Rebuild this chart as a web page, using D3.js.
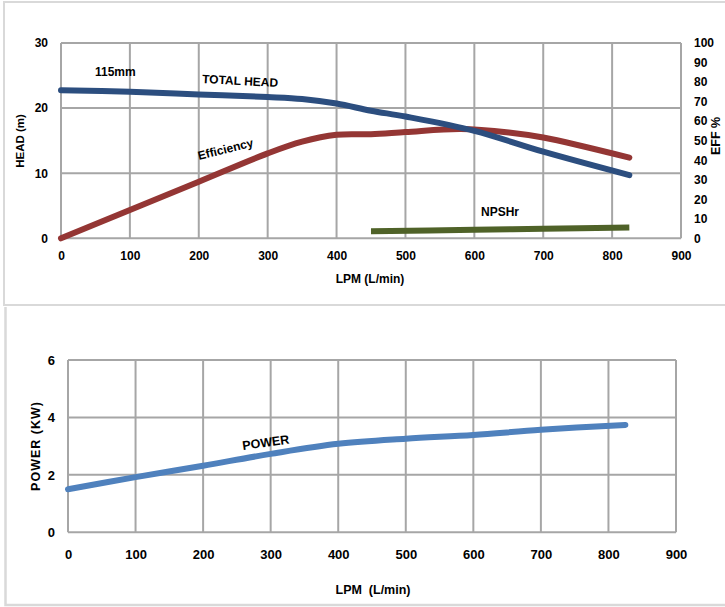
<!DOCTYPE html>
<html><head><meta charset="utf-8">
<script src="https://cdn.jsdelivr.net/npm/d3@7"></script>
<style>
body{margin:0;background:#fff;}
text{font-family:"Liberation Sans",Arial,sans-serif;font-weight:bold;fill:#000;}
</style></head>
<body>
<svg id="c" width="725" height="607"></svg>
<script>
// ---- data ----
const xTicks = [0,100,200,300,400,500,600,700,800,900];
const headTicks = [0,10,20,30];
const effTicks = [0,10,20,30,40,50,60,70,80,90,100];
const powerTicks = [0,2,4,6];

const headFlow = [0,100,200,300,350,400,450,500,600,700,825];
const headVals = [22.75,22.5,22.1,21.7,21.4,20.7,19.6,18.7,16.5,13.3,9.7];

const effFlow = [0,100,200,300,350,400,450,500,580,650,700,825];
const effVals = [0,14.5,29,43.5,49.5,53,53.3,54.4,56,54.2,51.6,41.3];

const npshFlow = [450,600,700,825];
const npshVals = [1.1,1.3,1.45,1.65];

const powerFlow = [0,100,200,300,400,500,600,700,825];
const powerVals = [1.5,1.92,2.32,2.73,3.08,3.26,3.39,3.57,3.74];

const svg = d3.select("#c");
const gridCol = "#A6A6A6";
const fmt = d3.format("d");

// panel frames
svg.append("path").attr("d","M4,306 V2 H725").attr("fill","none").attr("stroke","#D9D9D9").attr("stroke-width",2);
svg.append("line").attr("x1",4).attr("x2",725).attr("y1",305).attr("y2",305).attr("stroke","#D9D9D9").attr("stroke-width",2);
svg.append("path").attr("d","M5.5,307 V605 H725").attr("fill","none").attr("stroke","#D9D9D9").attr("stroke-width",2.5);

// ---------- TOP CHART ----------
const x1 = d3.scaleLinear().domain([0,900]).range([61,681]);
const yH = d3.scaleLinear().domain([0,30]).range([238.3,43]);
const yE = d3.scaleLinear().domain([0,100]).range([238.3,43]);

const g1 = svg.append("g");
g1.selectAll(".vg").data(xTicks).join("line")
  .attr("x1",d=>x1(d)).attr("x2",d=>x1(d)).attr("y1",yH(30)).attr("y2",yH(0))
  .attr("stroke",gridCol).attr("stroke-width",2);
g1.selectAll(".hg").data(headTicks).join("line")
  .attr("x1",x1(0)).attr("x2",x1(900)).attr("y1",d=>yH(d)).attr("y2",d=>yH(d))
  .attr("stroke",gridCol).attr("stroke-width",2);

const axB1 = g1.append("g").attr("transform","translate(0,238.3)")
  .call(d3.axisBottom(x1).tickValues(xTicks).tickFormat(fmt).tickSize(0).tickPadding(13));
const axL1 = g1.append("g").attr("transform","translate(61,0)")
  .call(d3.axisLeft(yH).tickValues(headTicks).tickFormat(fmt).tickSize(0).tickPadding(13));
const axR1 = g1.append("g").attr("transform","translate(681,0)")
  .call(d3.axisRight(yE).tickValues(effTicks).tickFormat(fmt).tickSize(0).tickPadding(13));
[axB1,axL1,axR1].forEach(a=>{a.select(".domain").remove();a.selectAll("text").attr("font-size",12).attr("font-weight","bold").attr("font-family","Liberation Sans, Arial, sans-serif");});

const line = (xs,ys,sx,sy)=>d3.line().curve(d3.curveCatmullRom.alpha(0.5))
  .x((d,i)=>sx(xs[i])).y(d=>sy(d))(ys);

g1.append("path").attr("d",line(effFlow,effVals,x1,yE)).attr("fill","none")
  .attr("stroke","#943634").attr("stroke-width",6).attr("stroke-linecap","round");
g1.append("path").attr("d",line(headFlow,headVals,x1,yH)).attr("fill","none")
  .attr("stroke","#2C4E7F").attr("stroke-width",6).attr("stroke-linecap","round");
g1.append("path").attr("d",line(npshFlow,npshVals,x1,yH)).attr("fill","none")
  .attr("stroke","#4F6228").attr("stroke-width",6);

g1.append("text").attr("x",95).attr("y",76).attr("font-size",12).text("115mm");
g1.append("text").attr("x",202).attr("y",83).attr("font-size",12)
  .attr("transform","rotate(3,202,83)").text("TOTAL HEAD");
g1.append("text").attr("x",199).attr("y",160).attr("font-size",12)
  .attr("transform","rotate(-14,199,160)").text("Efficiency");
g1.append("text").attr("x",481).attr("y",216).attr("font-size",12).text("NPSHr");

g1.append("text").attr("transform","translate(24,141) rotate(-90)").attr("text-anchor","middle")
  .attr("font-size",11.5).text("HEAD (m)");
g1.append("text").attr("transform","translate(720,136) rotate(-90)").attr("text-anchor","middle")
  .attr("font-size",12.5).text("EFF %");
g1.append("text").attr("x",370).attr("y",283).attr("text-anchor","middle")
  .attr("font-size",12).text("LPM (L/min)");

// ---------- BOTTOM CHART ----------
const x2 = d3.scaleLinear().domain([0,900]).range([68,676]);
const yP = d3.scaleLinear().domain([0,6]).range([532.3,360]);
const g2 = svg.append("g");
g2.selectAll(".vg").data(xTicks).join("line")
  .attr("x1",d=>x2(d)).attr("x2",d=>x2(d)).attr("y1",yP(6)).attr("y2",yP(0))
  .attr("stroke",gridCol).attr("stroke-width",2);
g2.selectAll(".hg").data(powerTicks).join("line")
  .attr("x1",x2(0)).attr("x2",x2(900)).attr("y1",d=>yP(d)).attr("y2",d=>yP(d))
  .attr("stroke",gridCol).attr("stroke-width",2);
const axB2 = g2.append("g").attr("transform","translate(0,532.3)")
  .call(d3.axisBottom(x2).tickValues(xTicks).tickFormat(fmt).tickSize(0).tickPadding(17));
const axL2 = g2.append("g").attr("transform","translate(68,0)")
  .call(d3.axisLeft(yP).tickValues(powerTicks).tickFormat(fmt).tickSize(0).tickPadding(13));
[axB2,axL2].forEach(a=>{a.select(".domain").remove();a.selectAll("text").attr("font-size",13).attr("font-weight","bold").attr("font-family","Liberation Sans, Arial, sans-serif");});

g2.append("path").attr("d",line(powerFlow,powerVals,x2,yP)).attr("fill","none")
  .attr("stroke","#4F81BD").attr("stroke-width",6).attr("stroke-linecap","round");

g2.append("text").attr("x",243).attr("y",450).attr("font-size",12.5)
  .attr("transform","rotate(-8,243,450)").text("POWER");
g2.append("text").attr("transform","translate(40,446) rotate(-90)").attr("text-anchor","middle")
  .attr("font-family","DejaVu Sans, sans-serif").attr("font-size",12.5).attr("letter-spacing",1).text("POWER (KW)");
g2.append("text").attr("x",373).attr("y",594).attr("text-anchor","middle")
  .attr("font-size",12.5).style("white-space","pre").text("LPM  (L/min)");
</script>
</body></html>
